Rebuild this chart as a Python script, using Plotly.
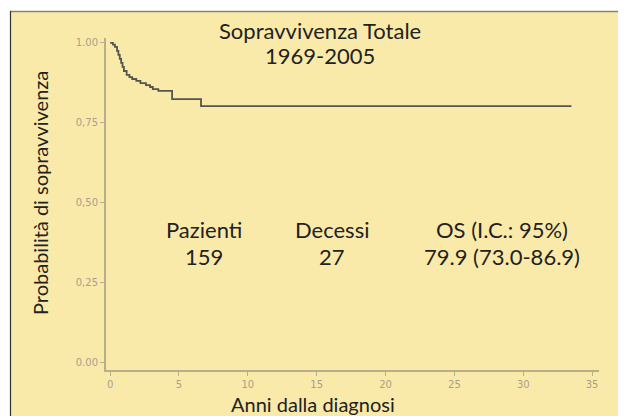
import plotly.graph_objects as go

# Kaplan-Meier steps
times = [0.0, 0.2, 0.35, 0.5, 0.6, 0.7, 0.8, 0.9, 1.0, 1.2, 1.4, 1.6, 1.9, 2.2, 2.6, 2.9, 3.1, 3.5, 4.5, 6.6, 33.5]
surv = [1.0, 0.994, 0.987, 0.975, 0.962, 0.950, 0.937, 0.925, 0.912, 0.900, 0.893, 0.887, 0.881, 0.874, 0.868, 0.862, 0.855, 0.850, 0.824, 0.802, 0.802]

x_ticks = [0, 5, 10, 15, 20, 25, 30, 35]
y_ticks = [0.0, 0.25, 0.5, 0.75, 1.0]
y_tick_labels = ["0.00", "0,25", "0,50", "0,75", "1.00"]

title_lines = ["Sopravvivenza Totale", "1969-2005"]
stat_headers = ["Pazienti", "Decessi", "OS (I.C.: 95%)"]
stat_values = ["159", "27", "79.9 (73.0-86.9)"]
stat_x = [204, 332, 502]

OFF = 8  # page body margin
W, H = 626 - OFF, 416 - OFF
BG = "#FAEAAA"
AX = "#B9AE8C"
TXT = "#222222"
FONT = "Lato"

fig = go.Figure()
fig.add_trace(go.Scatter(x=times, y=surv, mode="lines", line=dict(shape="hv", color="#55554f", width=1.8),
                         hoverinfo="skip", showlegend=False))

def px_x(p):
    return (p - OFF) / W

def px_y(p):
    return (H - (p - OFF)) / H

shapes = [
    dict(type="rect", xref="paper", yref="paper", x0=px_x(11), x1=1.05, y0=-0.05, y1=px_y(12),
         fillcolor=BG, line=dict(width=0), layer="below"),
    dict(type="rect", xref="paper", yref="paper", x0=-0.05, x1=px_x(11), y0=-0.05, y1=1.05,
         fillcolor="white", line=dict(width=0), layer="below"),
    dict(type="rect", xref="paper", yref="paper", x0=-0.05, x1=1.05, y0=px_y(12), y1=1.05,
         fillcolor="white", line=dict(width=0), layer="below"),
    dict(type="line", xref="paper", yref="paper", x0=px_x(10), x1=1.05, y0=px_y(11.5), y1=px_y(11.5),
         line=dict(color="#8A8272", width=1.5)),
    dict(type="line", xref="paper", yref="paper", x0=px_x(10.5), x1=px_x(10.5), y0=-0.05, y1=px_y(11),
         line=dict(color="#333333", width=1.2)),
]

annotations = []
for i, t in enumerate(title_lines):
    annotations.append(dict(text=t, xref="paper", yref="paper", x=px_x(320), y=px_y(30 + 25 * i),
                            showarrow=False, font=dict(family=FONT, size=22, color=TXT),
                            xanchor="center", yanchor="middle"))
for h, v, xp in zip(stat_headers, stat_values, stat_x):
    annotations.append(dict(text=h, xref="paper", yref="paper", x=px_x(xp), y=px_y(229),
                            showarrow=False, font=dict(family=FONT, size=22, color=TXT),
                            xanchor="center", yanchor="middle"))
    annotations.append(dict(text=v, xref="paper", yref="paper", x=px_x(xp), y=px_y(256),
                            showarrow=False, font=dict(family=FONT, size=22, color=TXT),
                            xanchor="center", yanchor="middle"))
annotations.append(dict(text="Probabilità di sopravvivenza", xref="paper", yref="paper", x=px_x(40), y=px_y(193),
                        showarrow=False, textangle=-90, font=dict(family=FONT, size=20, color=TXT),
                        xanchor="center", yanchor="middle"))
annotations.append(dict(text="Anni dalla diagnosi", xref="paper", yref="paper", x=px_x(313), y=px_y(404),
                        showarrow=False, font=dict(family=FONT, size=20, color=TXT),
                        xanchor="center", yanchor="middle"))

fig.update_layout(
    width=W, height=H,
    margin=dict(l=0, r=0, t=0, b=0),
    paper_bgcolor="white",
    plot_bgcolor="rgba(0,0,0,0)",
    shapes=shapes,
    annotations=annotations,
    xaxis=dict(domain=[px_x(106), px_x(599)], range=[-0.3, 35.5],
               tickvals=x_ticks, ticktext=[str(v) for v in x_ticks],
               showline=True, linecolor=AX, linewidth=2, ticks="outside", ticklen=4, tickcolor=AX,
               showgrid=False, zeroline=False, tickfont=dict(family="DejaVu Sans", size=10, color="#A8A08A")),
    yaxis=dict(domain=[px_y(370), px_y(38)], range=[-0.022, 1.015],
               tickvals=y_ticks, ticktext=y_tick_labels,
               showline=True, linecolor=AX, linewidth=2, ticks="outside", ticklen=4, tickcolor=AX,
               showgrid=False, zeroline=False, tickfont=dict(family="DejaVu Sans", size=10, color="#A8A08A")),
)

fig.write_html("out.html")
